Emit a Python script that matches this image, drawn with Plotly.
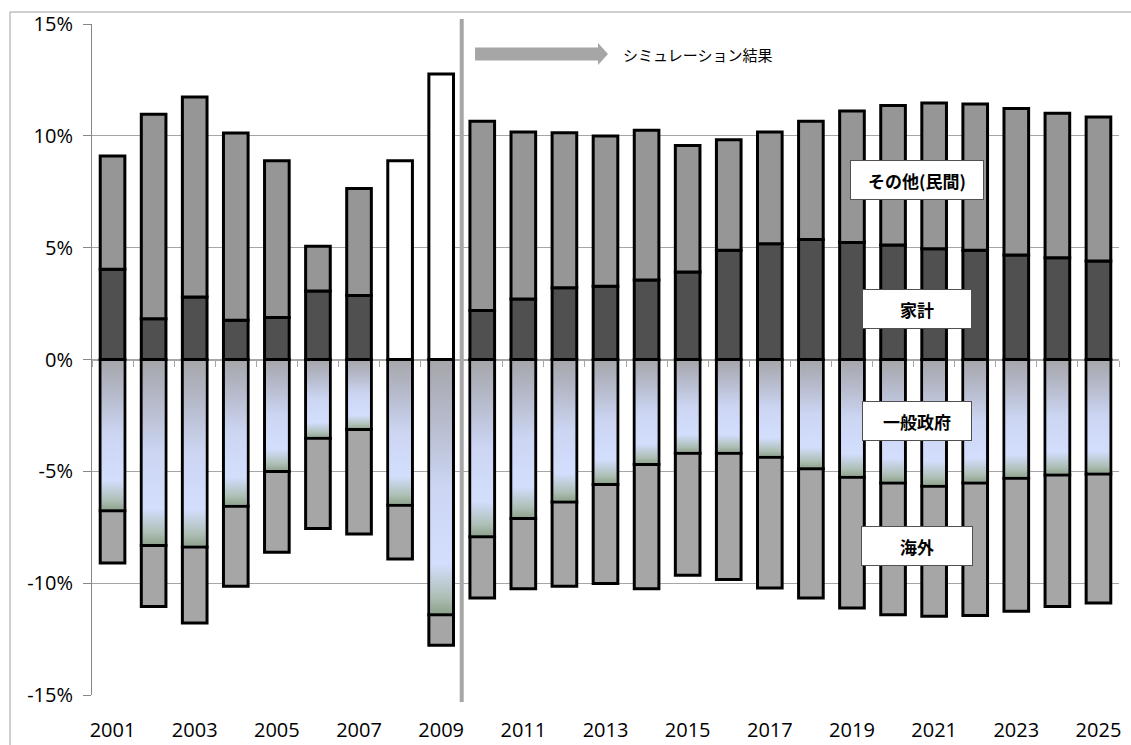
import plotly.graph_objects as go

# Sector savings-investment balance (% of GDP), actual 2001-2009 and simulated 2010-2025
years = list(range(2001, 2026))

household = [4.03, 1.82, 2.79, 1.76, 1.88, 3.06, 2.86, None, None,
             2.19, 2.71, 3.21, 3.28, 3.55, 3.91, 4.89, 5.18, 5.37,
             5.23, 5.12, 4.95, 4.88, 4.67, 4.55, 4.40]
other_private = [5.07, 9.14, 8.95, 8.37, 7.01, 2.00, 4.78, None, None,
                 8.46, 7.46, 6.93, 6.71, 6.70, 5.66, 4.94, 4.99, 5.28,
                 5.88, 6.24, 6.52, 6.54, 6.55, 6.46, 6.44]
# private sector total, shown only where no breakdown is available
private_total = [None] * 7 + [8.89, 12.77] + [None] * 16
government = [-6.76, -8.32, -8.38, -6.56, -5.01, -3.52, -3.13, -6.52, -11.41,
              -7.93, -7.11, -6.37, -5.59, -4.70, -4.19, -4.19, -4.37, -4.89,
              -5.26, -5.52, -5.67, -5.52, -5.31, -5.16, -5.12]
overseas = [-2.34, -2.72, -3.40, -3.58, -3.61, -4.04, -4.67, -2.40, -1.37,
            -2.73, -3.14, -3.77, -4.42, -5.55, -5.46, -5.65, -5.85, -5.77,
            -5.85, -5.89, -5.81, -5.93, -5.95, -5.88, -5.77]

label_years = years[::2]
y_ticks = [-15, -10, -5, 0, 5, 10, 15]

# figure geometry (pixels)
W, H = 1131, 745
ML, MR, MT, MB = 92, 12, 24, 50
PW, PH = W - ML - MR, H - MT - MB


def px(xp):
    return (xp - ML) / PW


def py(yp):
    return (H - MB - yp) / PH


BAR_W = 0.6
OUTLINE = 3
FONT = "Open Sans"
JP_FONT = "Noto Sans CJK JP"

x_unit = PW / len(years)          # pixels per category
y_unit = PH / (y_ticks[-1] - y_ticks[0])  # pixels per percentage point

fig = go.Figure()

bar_line = dict(color="black", width=OUTLINE)
fig.add_trace(go.Bar(x=years, y=household, name="家計", width=BAR_W,
                     marker=dict(color="#505050", line=bar_line)))
fig.add_trace(go.Bar(x=years, y=other_private, name="その他(民間)", width=BAR_W,
                     marker=dict(color="#969696", line=bar_line)))
fig.add_trace(go.Bar(x=years, y=private_total, name="民間", width=BAR_W,
                     marker=dict(color="white", line=bar_line)))
fig.add_trace(go.Bar(x=years, y=government, name="一般政府", width=BAR_W,
                     marker=dict(color="#cfd9f6", line=bar_line)))
fig.add_trace(go.Bar(x=years, y=overseas, name="海外", width=BAR_W,
                     marker=dict(color="#a6a6a6", line=bar_line)))

# gradient fill inside each general-government bar
gov_scale = [[0.0, "#8ba088"], [0.07, "#aebfb6"], [0.2, "#d3defd"],
             [0.5, "#ccd6f3"], [0.78, "#b5b9c9"], [1.0, "#a5a6aa"]]
ix = (OUTLINE / 2) / x_unit
iy = (OUTLINE / 2) / y_unit
for yr, g in zip(years, government):
    x0, x1 = yr - BAR_W / 2 + ix, yr + BAR_W / 2 - ix
    y0, y1 = -iy, g + iy
    fig.add_trace(go.Scatter(
        x=[x0, x1, x1, x0, x0], y=[y0, y0, y1, y1, y0],
        mode="lines", fill="toself",
        line=dict(width=0, color="rgba(0,0,0,0)"),
        fillgradient=dict(type="vertical", colorscale=gov_scale,
                          start=g, stop=0),
        hoverinfo="skip", showlegend=False))

# helper trace so the zero-line axis is rendered
fig.add_trace(go.Scatter(x=[years[0] - 0.5, years[-1] + 0.5], y=[0, 0],
                         xaxis="x2", mode="lines", opacity=0,
                         hoverinfo="skip", showlegend=False))

x_range = [years[0] - 0.5, years[-1] + 0.5]
boundaries = [y + 0.5 for y in range(years[0] - 1, years[-1] + 1)]

fig.update_layout(
    width=W, height=H,
    margin=dict(l=ML, r=MR, t=MT, b=MB),
    paper_bgcolor="white", plot_bgcolor="white",
    barmode="relative",
    showlegend=False,
    xaxis=dict(range=x_range, tickvals=label_years,
               ticktext=[str(y) for y in label_years],
               showgrid=False, zeroline=False, showline=False,
               ticks="", ticklabelstandoff=21, automargin=False,
               tickfont=dict(family=FONT, size=20, color="black")),
    xaxis2=dict(range=x_range, overlaying="x", anchor="free", position=0.5,
                showline=True, linecolor="#a6a6a6", linewidth=1,
                ticks="outside", ticklen=6, tickcolor="#a6a6a6",
                tickvals=boundaries, showticklabels=False, automargin=False,
                showgrid=False, zeroline=False, layer="below traces"),
    yaxis=dict(range=[y_ticks[0], y_ticks[-1]], tickvals=y_ticks,
               ticktext=[f"{v}%" for v in y_ticks],
               showgrid=True, gridcolor="#a6a6a6", gridwidth=1,
               zeroline=False, showline=True, linecolor="#868686",
               linewidth=1, ticks="outside", ticklen=8, tickcolor="#868686",
               ticklabelstandoff=6, automargin=False,
               tickfont=dict(family=FONT, size=20, color="black")),
)

# outer chart frame
fig.add_shape(type="rect", xref="paper", yref="paper",
              x0=px(10), y0=py(H + 20), x1=px(W + 20), y1=py(12),
              line=dict(color="#a0a0a0", width=1), fillcolor="rgba(0,0,0,0)",
              layer="below")

# divider between actual and simulated years
fig.add_shape(type="line", xref="x", yref="paper",
              x0=2009.5, x1=2009.5, y0=py(702), y1=py(19),
              line=dict(color="#a6a6a6", width=4))

# arrow pointing to the simulation period
arrow_pts = [(475, 47.5), (598, 47.5), (598, 43), (608, 54), (598, 65),
             (598, 60.5), (475, 60.5)]
path = "M " + " L ".join(f"{px(a):.5f},{py(b):.5f}" for a, b in arrow_pts) + " Z"
fig.add_shape(type="path", xref="paper", yref="paper", path=path,
              fillcolor="#a6a6a6", line=dict(width=0))
fig.add_annotation(x=px(621), y=py(54), xref="paper", yref="paper",
                   text="シミュレーション結果", showarrow=False,
                   xanchor="left", yanchor="middle",
                   font=dict(family=JP_FONT, size=15, color="black"))

# sector labels
label_x = 2020.58
sector_labels = [("その他(民間)", 8.02, 134), ("家計", 2.28, 110),
                 ("一般政府", -2.77, 110), ("海外", -8.36, 112)]
for text, yv, bw in sector_labels:
    fig.add_annotation(x=label_x, y=yv, xref="x", yref="y",
                       text=f"<b>{text}</b>", showarrow=False,
                       width=bw - 2, height=38, borderpad=0,
                       bgcolor="white", bordercolor="#505050", borderwidth=1,
                       font=dict(family=JP_FONT, size=17, color="black"))

fig.write_html("out.html")
